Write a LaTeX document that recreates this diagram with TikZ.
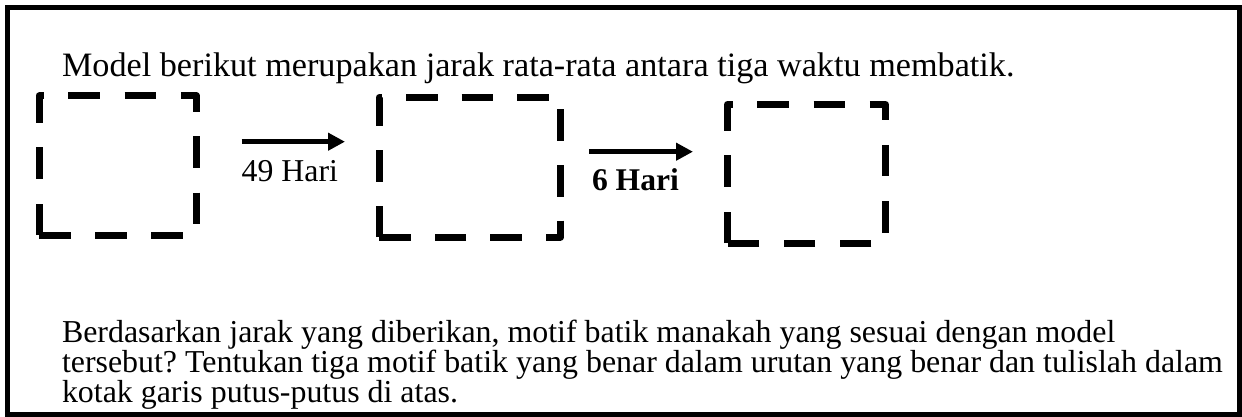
\documentclass[tikz,border=0pt]{standalone}
\usepackage{fontspec}
\setmainfont{Liberation Serif}
\usetikzlibrary{arrows.meta}
\frenchspacing
\begin{document}
\begin{tikzpicture}[x=1pt,y=-1pt,
  txt/.style={inner sep=0pt, outer sep=0pt, anchor=base west, font=\fontsize{31.8}{31.8}\selectfont},
  txtbig/.style={txt, font=\fontsize{34.2}{34.2}\selectfont},
  txtbold/.style={txt, font=\fontsize{31.6}{31.6}\selectfont\bfseries},
  para/.style={txt, text width=1200pt, align=flush left, font=\fontsize{31.9}{28.5}\selectfont\frenchspacing},
  frameline/.style={line width=5pt},
  slot/.style={inner sep=0pt, outer sep=0pt, minimum width=#1},
  dbox/.style={line width=7pt, line join=round, dash pattern=on 31.5pt off #1},
  arr/.style={line width=5.5pt, -{Triangle[length=17pt,width=17pt]}}
]
\useasboundingbox (0,0) rectangle (1242,417);
\draw[frameline] (7.5,7.5) rectangle (1239.5,414.5);

% title
\node[txtbig] (title) at (62,77) {Model berikut merupakan jarak rata-rata antara tiga waktu membatik.};

% dashed boxes
\node[slot=157.5pt, minimum height=139pt] (b1) at (117.75,165.5) {};
\node[slot=181.5pt, minimum height=139.5pt] (b2) at (469.75,167.25) {};
\node[slot=158pt, minimum height=138.5pt] (b3) at (806.5,173.75) {};
\draw[dbox=24.65pt] (b1.south west) -- (b1.north west) -- (b1.north east) -- (b1.south east) -- cycle;
\draw[dbox=24pt] (b2.south west) -- (b2.north west) -- (b2.north east) -- (b2.south east) -- cycle;
\draw[dbox=24.65pt] (b3.south west) -- (b3.north west) -- (b3.north east) -- (b3.south east) -- cycle;

% arrows
\coordinate (a1s) at (241.7,141.7);
\coordinate (a1e) at (345,141.7);
\coordinate (a2s) at (589,151.7);
\coordinate (a2e) at (693,151.7);
\draw[arr] (a1s) -- (a1e);
\draw[arr] (a2s) -- (a2e);
\node[txt] (l49) at (241.7,181) {49 Hari};
\node[txtbold] (l6) at (592,190) {6 Hari};

% question
\node[para] (q) at (62,342) {Berdasarkan jarak yang diberikan, motif batik manakah yang sesuai dengan model\\
tersebut? Tentukan tiga motif batik yang benar dalam urutan yang benar dan tulislah dalam\\
kotak garis putus-putus di atas.};
\end{tikzpicture}
\end{document}
